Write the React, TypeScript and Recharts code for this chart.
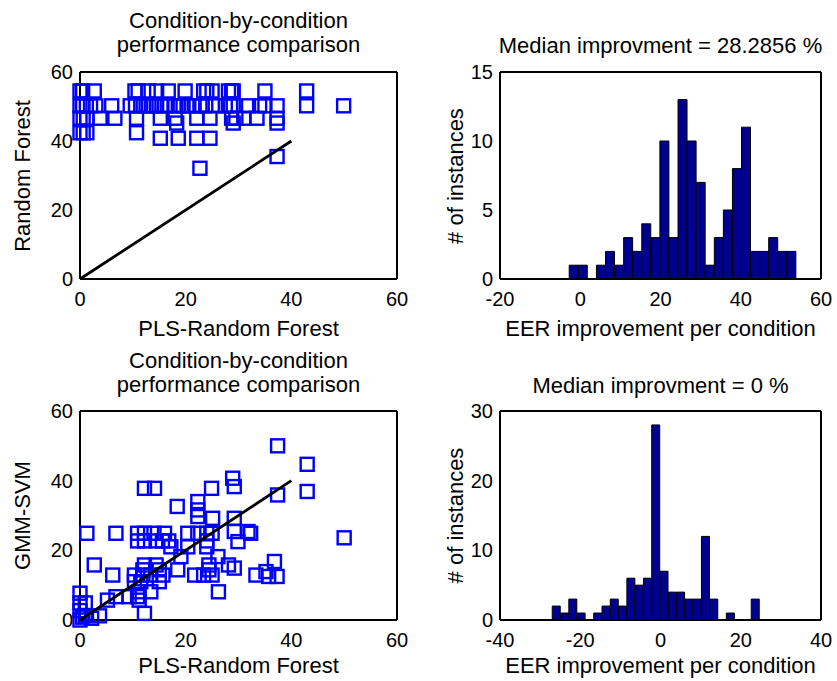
import React from 'react';
import { ScatterChart, Scatter, BarChart, Bar, XAxis, YAxis } from 'recharts';

const FONT = '"Liberation Sans", Arial, Helvetica, sans-serif';

// ---------- Data ----------
const topTitleLines = ['Condition-by-condition', 'performance comparison'];
const bottomTitleLines = ['Condition-by-condition', 'performance comparison'];
const topHistTitle = 'Median improvment = 28.2856 %';
const bottomHistTitle = 'Median improvment = 0 %';
const scatterXLabel = 'PLS-Random Forest';
const topScatterYLabel = 'Random Forest';
const bottomScatterYLabel = 'GMM-SVM';
const histXLabel = 'EER improvement per condition';
const histYLabel = '# of instances';

const scatterTicks = [0, 20, 40, 60];
const topHistXTicks = [-20, 0, 20, 40, 60];
const topHistYTicks = [0, 5, 10, 15];
const bottomHistXTicks = [-40, -20, 0, 20, 40];
const bottomHistYTicks = [0, 10, 20, 30];

// PLS-Random Forest (x) vs Random Forest (y)
const rfPoints = [
  // y ~ 54.5
  { x: 0, y: 54.5 }, { x: 0.5, y: 54.5 }, { x: 2.7, y: 54.5 }, { x: 10.4, y: 54.5 }, { x: 11, y: 54.5 },
  { x: 12.9, y: 54.5 }, { x: 14.5, y: 54.5 }, { x: 16.7, y: 54.5 }, { x: 19.9, y: 54.5 }, { x: 23.4, y: 54.5 },
  { x: 24, y: 54.5 }, { x: 25, y: 54.5 }, { x: 28.1, y: 54.5 }, { x: 28.7, y: 54.5 }, { x: 29, y: 54.5 },
  { x: 35, y: 54.5 }, { x: 42.9, y: 54.5 },
  // y ~ 50.2
  { x: 0, y: 50.2 }, { x: 0.5, y: 50.2 }, { x: 1.2, y: 50.2 }, { x: 2, y: 50.2 }, { x: 3, y: 50.2 },
  { x: 6, y: 50.2 }, { x: 9.5, y: 50.2 }, { x: 10.5, y: 50.2 }, { x: 11.5, y: 50.2 }, { x: 12.5, y: 50.2 },
  { x: 13.5, y: 50.2 }, { x: 14.5, y: 50.2 }, { x: 15.5, y: 50.2 }, { x: 16.5, y: 50.2 }, { x: 17.8, y: 50.2 },
  { x: 18.6, y: 50.2 }, { x: 19.5, y: 50.2 }, { x: 20.6, y: 50.2 }, { x: 21.6, y: 50.2 }, { x: 22.7, y: 50.2 },
  { x: 23.8, y: 50.2 }, { x: 25.6, y: 50.2 }, { x: 27.5, y: 50.2 }, { x: 28.5, y: 50.2 }, { x: 29, y: 50.2 },
  { x: 31.9, y: 50.2 }, { x: 34, y: 50.2 }, { x: 35, y: 50.2 }, { x: 37.3, y: 50.2 }, { x: 42.9, y: 50.2 },
  { x: 49.9, y: 50.2 },
  // y ~ 46.6
  { x: 0, y: 46.6 }, { x: 0.6, y: 46.6 }, { x: 1.3, y: 46.6 }, { x: 3.8, y: 46.6 }, { x: 6.6, y: 46.6 },
  { x: 10.7, y: 46.6 }, { x: 15.2, y: 46.6 }, { x: 18, y: 46.6 }, { x: 22.1, y: 46.6 }, { x: 24.6, y: 46.6 },
  { x: 28.7, y: 46.6 }, { x: 29.5, y: 46.6 }, { x: 31, y: 46.6 }, { x: 33.5, y: 46.6 }, { x: 37.3, y: 46.6 },
  // y ~ 45.2
  { x: 18.3, y: 45.2 }, { x: 29, y: 45.2 }, { x: 37.3, y: 45.2 },
  // y ~ 42.4
  { x: 0, y: 42.4 }, { x: 0.6, y: 42.4 }, { x: 1.3, y: 42.4 }, { x: 10.7, y: 42.4 },
  // y ~ 40.8
  { x: 15.2, y: 40.8 }, { x: 18.6, y: 40.8 }, { x: 22.1, y: 40.8 }, { x: 24.6, y: 40.8 },
  // singles
  { x: 22.7, y: 32.1 }, { x: 37.3, y: 35.5 },
];

// PLS-Random Forest (x) vs GMM-SVM (y)
const gmmPoints = [
  { x: 37.4, y: 50 }, { x: 43, y: 44.7 }, { x: 43, y: 36.9 }, { x: 37.4, y: 35.9 },
  { x: 28.9, y: 40.7 }, { x: 29.2, y: 38.3 }, { x: 24.9, y: 37.8 }, { x: 12.2, y: 37.8 }, { x: 14.1, y: 37.8 },
  { x: 18.4, y: 32.6 }, { x: 22.3, y: 34 }, { x: 22.3, y: 31.6 }, { x: 22.3, y: 29.7 }, { x: 25.1, y: 29.2 },
  { x: 29.2, y: 29.2 },
  { x: 1.3, y: 24.9 }, { x: 6.8, y: 24.9 }, { x: 10.9, y: 24.9 }, { x: 12.2, y: 24.9 }, { x: 14, y: 24.9 },
  { x: 16, y: 24.9 }, { x: 20.4, y: 24.9 }, { x: 22.3, y: 24.9 }, { x: 24, y: 24.9 }, { x: 25, y: 24.9 },
  { x: 29.2, y: 25.4 }, { x: 31.8, y: 25.4 }, { x: 32.3, y: 24.9 }, { x: 50, y: 23.6 },
  { x: 10.9, y: 22.7 }, { x: 12.2, y: 22.7 }, { x: 14.4, y: 22.7 }, { x: 15.6, y: 22.7 }, { x: 16.8, y: 22.7 },
  { x: 24, y: 22.7 }, { x: 29.9, y: 22.5 },
  { x: 17.2, y: 21 }, { x: 20.4, y: 21 }, { x: 24, y: 21 },
  { x: 19.1, y: 18.2 }, { x: 26.1, y: 18.2 },
  { x: 2.7, y: 15.8 }, { x: 12.2, y: 15.8 }, { x: 14.4, y: 15.8 }, { x: 24.4, y: 15.8 }, { x: 28.1, y: 15.8 },
  { x: 36.8, y: 16.8 }, { x: 29.2, y: 14.9 },
  { x: 11.9, y: 14.4 }, { x: 15, y: 14.4 }, { x: 18.5, y: 14.4 }, { x: 24.4, y: 14.4 }, { x: 35.2, y: 13.9 },
  { x: 6.2, y: 12.9 }, { x: 10.3, y: 12.9 }, { x: 11.9, y: 12.9 }, { x: 13.4, y: 12.9 }, { x: 15.7, y: 12.9 },
  { x: 21.7, y: 12.9 }, { x: 23.4, y: 12.9 }, { x: 25, y: 12.9 }, { x: 33.3, y: 12.9 }, { x: 35.7, y: 12.5 },
  { x: 37.3, y: 12.5 },
  { x: 10.3, y: 11 }, { x: 11.5, y: 11 }, { x: 15, y: 11 },
  { x: 11.2, y: 8.1 }, { x: 13.4, y: 8.1 }, { x: 26.2, y: 8.1 },
  { x: 6.8, y: 6.7 }, { x: 9.3, y: 6.7 }, { x: 10.9, y: 6.7 },
  { x: 5.2, y: 5.7 }, { x: 11.2, y: 5.7 },
  { x: 12.2, y: 1.9 },
  { x: 0, y: 7.7 }, { x: 0, y: 4.9 }, { x: 1, y: 4.9 }, { x: 0, y: 2.7 }, { x: 1, y: 1.3 },
  { x: 2.2, y: 0.5 }, { x: 3.7, y: 1.2 }, { x: 0, y: 0 }, { x: 0.5, y: 0.8 },
];

const diagonal = [{ x: 0, y: 0 }, { x: 40, y: 40 }];

const topBinCenters = [-1.62, 0.64, 2.9, 5.16, 7.42, 9.68, 11.94, 14.2, 16.46, 18.72, 20.98, 23.24, 25.5,
  27.76, 30.02, 32.28, 34.54, 36.8, 39.06, 41.32, 43.58, 45.84, 48.1, 50.36, 52.62];
const topCounts = [1, 1, 0, 1, 2, 1, 3, 2, 4, 3, 10, 3, 13, 10, 7, 1, 3, 5, 8, 11, 2, 2, 3, 2, 2];

const bottomBinCenters = [-25.95, -23.88, -21.82, -19.75, -17.68, -15.62, -13.55, -11.49, -9.42, -7.35,
  -5.29, -3.22, -1.16, 0.91, 2.98, 5.04, 7.11, 9.17, 11.24, 13.31, 15.37, 17.44, 19.51, 21.57, 23.64];
const bottomCounts = [2, 1, 3, 1, 0, 1, 2, 3, 2, 6, 5, 6, 28, 7, 4, 4, 3, 3, 12, 3, 0, 1, 0, 0, 3];

const topHist = topBinCenters.map((c, i) => ({ center: c, count: topCounts[i] }));
const bottomHist = bottomBinCenters.map((c, i) => ({ center: c, count: bottomCounts[i] }));

// ---------- Styles ----------
const TICK_FONT = 20;
const LABEL_FONT = 22;
const tickStyle = { fill: '#000', fontSize: TICK_FONT, fontFamily: FONT };
const axisLineStyle = { stroke: '#000', strokeWidth: 2 };
const tickLineStyle = { stroke: '#000', strokeWidth: 1.5 };

const SquareMarker = (props: any) => {
  const { cx, cy } = props;
  if (cx == null || cy == null) return <g />;
  const s = 13;
  return <rect x={cx - s / 2} y={cy - s / 2} width={s} height={s} fill="none" stroke="#0000FF" strokeWidth={2.4} />;
};
const NoMarker = () => <g />;

function boxAxes(xKey: string | undefined, yKey: string | undefined, xDomain: number[], xTicks: number[], yDomain: number[], yTicks: number[]) {
  return [
    <XAxis key="xb" dataKey={xKey} type="number" domain={xDomain} ticks={xTicks} interval={0}
      tickLine={false} tickSize={0} tickMargin={13} axisLine={axisLineStyle} height={30} tick={tickStyle} />,
    <XAxis key="xb2" xAxisId="b2" type="number" domain={xDomain} ticks={xTicks} interval={0} allowDataOverflow
      orientation="bottom" mirror height={1} tick={false} tickSize={5} tickLine={tickLineStyle} axisLine={false} />,
    <XAxis key="xt" xAxisId="t" type="number" domain={xDomain} ticks={xTicks} interval={0} allowDataOverflow
      orientation="top" mirror height={1} tick={false} tickSize={5} tickLine={tickLineStyle} axisLine={axisLineStyle} />,
    <YAxis key="yl" dataKey={yKey} type="number" domain={yDomain} ticks={yTicks} interval={0}
      tickLine={false} tickSize={0} tickMargin={7} axisLine={axisLineStyle} width={60} tick={tickStyle} />,
    <YAxis key="yl2" yAxisId="l2" type="number" domain={yDomain} ticks={yTicks} interval={0} allowDataOverflow
      orientation="left" mirror width={1} tick={false} tickSize={5} tickLine={tickLineStyle} axisLine={false} />,
    <YAxis key="yr" yAxisId="r" type="number" domain={yDomain} ticks={yTicks} interval={0} allowDataOverflow
      orientation="right" mirror width={1} tick={false} tickSize={5} tickLine={tickLineStyle} axisLine={axisLineStyle} />,
  ];
}

function ScatterPanel({ points, left, top, marginTop, marginBottom }: any) {
  return (
    <div style={{ position: 'absolute', left, top }}>
      <ScatterChart width={420} height={340} margin={{ top: marginTop, right: 23, bottom: marginBottom, left: 20 }}>
        {boxAxes('x', 'y', [0, 60], scatterTicks, [0, 60], scatterTicks)}
        <Scatter data={points} shape={SquareMarker} isAnimationActive={false} />
        <Scatter data={diagonal} shape={NoMarker} line={{ stroke: '#000', strokeWidth: 2.8 }} isAnimationActive={false} />
      </ScatterChart>
    </div>
  );
}

function HistPanel({ data, left, top, xDomain, xTicks, yDomain, yTicks, marginTop, marginBottom }: any) {
  return (
    <div style={{ position: 'absolute', left, top }}>
      <BarChart width={417} height={340} data={data} barCategoryGap={0} barGap={0}
        margin={{ top: marginTop, right: 16, bottom: marginBottom, left: 20 }}>
        {boxAxes('center', undefined, xDomain, xTicks, yDomain, yTicks)}
        <Bar dataKey="count" fill="#00008F" stroke="#000" strokeWidth={1} isAnimationActive={false} />
      </BarChart>
    </div>
  );
}

const textStyle = { fontFamily: FONT, fontSize: LABEL_FONT, fill: '#000' } as any;

export default function App() {
  return (
    <div style={{ position: 'absolute', left: 0, top: 0, width: 837, height: 681, background: '#fff', overflow: 'hidden' }}>
      <ScatterPanel points={rfPoints} left={0} top={0} marginTop={72} marginBottom={31} />
      <HistPanel data={topHist} left={420} top={0} xDomain={[-20, 60]} xTicks={topHistXTicks}
        yDomain={[0, 15]} yTicks={topHistYTicks} marginTop={72} marginBottom={31} />
      <ScatterPanel points={gmmPoints} left={0} top={340} marginTop={71} marginBottom={30} />
      <HistPanel data={bottomHist} left={420} top={340} xDomain={[-40, 40]} xTicks={bottomHistXTicks}
        yDomain={[0, 30]} yTicks={bottomHistYTicks} marginTop={71} marginBottom={30} />
      <svg width={837} height={681} style={{ position: 'absolute', left: 0, top: 0, pointerEvents: 'none' }}>
        <text x={238.5} y={28} textAnchor="middle" style={textStyle}>{topTitleLines[0]}</text>
        <text x={238.5} y={52} textAnchor="middle" style={textStyle}>{topTitleLines[1]}</text>
        <text x={660.5} y={53} textAnchor="middle" style={textStyle}>{topHistTitle}</text>
        <text x={238.5} y={368} textAnchor="middle" style={textStyle}>{bottomTitleLines[0]}</text>
        <text x={238.5} y={392} textAnchor="middle" style={textStyle}>{bottomTitleLines[1]}</text>
        <text x={660.5} y={393} textAnchor="middle" style={textStyle}>{bottomHistTitle}</text>

        <text x={238.5} y={336} textAnchor="middle" style={textStyle}>{scatterXLabel}</text>
        <text x={660.5} y={336} textAnchor="middle" style={textStyle}>{histXLabel}</text>
        <text x={238.5} y={673} textAnchor="middle" style={textStyle}>{scatterXLabel}</text>
        <text x={660.5} y={673} textAnchor="middle" style={textStyle}>{histXLabel}</text>

        <text x={30} y={176} textAnchor="middle" transform="rotate(-90 30 176)" style={textStyle}>{topScatterYLabel}</text>
        <text x={463} y={176} textAnchor="middle" transform="rotate(-90 463 176)" style={textStyle}>{histYLabel}</text>
        <text x={30} y={515.5} textAnchor="middle" transform="rotate(-90 30 515.5)" style={textStyle}>{bottomScatterYLabel}</text>
        <text x={463} y={515.5} textAnchor="middle" transform="rotate(-90 463 515.5)" style={textStyle}>{histYLabel}</text>
      </svg>
    </div>
  );
}
